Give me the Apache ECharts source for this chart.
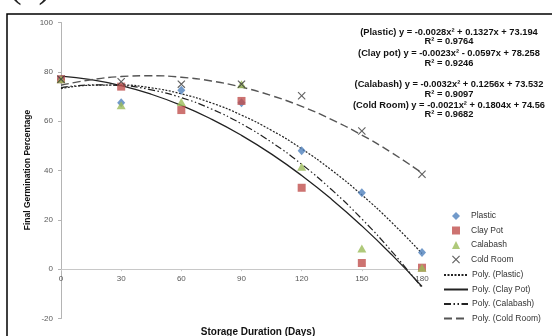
<!DOCTYPE html>
<html>
<head>
<meta charset="utf-8">
<script src="https://cdn.jsdelivr.net/npm/echarts@6/dist/echarts.min.js"></script>
<style>
  html, body { margin: 0; padding: 0; background: #fff; }
  #chart { width: 552px; height: 336px; }
</style>
</head>
<body>
<div id="chart"></div>
<script>
// storage days and measured germination (%)
var days = [0, 30, 60, 90, 120, 150, 180];
var plastic = [77, 67.5, 72.5, 67.5, 48, 31, 6.8];
var clayPot = [77, 74, 64.5, 68.2, 33, 2.5, 0.6];
var calabash = [77, 66.5, 67.8, 75, 41.5, 8.4, 0.6];
var coldRoom = [77, 76, 75, 75, 70.3, 56, 38.5];

// trendline readings (poly order 2), every 15 days
var fitDays = [0, 15, 30, 45, 60, 75, 90, 105, 120, 135, 150, 165, 180];
var fitPlastic = [73.19, 74.55, 74.66, 73.5, 71.08, 67.4, 62.46, 56.26, 48.8, 40.08, 30.1, 18.86, 6.36];
var fitClayPot = [78.26, 76.85, 74.4, 70.91, 66.4, 60.84, 54.26, 46.63, 37.97, 28.28, 17.55, 5.79, -7.01];
var fitCalabash = [73.53, 74.7, 74.42, 72.7, 69.55, 64.95, 58.92, 51.44, 42.52, 32.17, 20.37, 7.14, -7.54];
var fitColdRoom = [74.56, 76.79, 78.08, 78.43, 77.82, 76.28, 73.79, 70.35, 65.97, 60.64, 54.37, 47.15, 38.99];

var equations = [
  ['(Plastic) y = -0.0028x² + 0.1327x + 73.194', 32],
  ['R² = 0.9764', 41.5],
  ['(Clay pot) y = -0.0023x² - 0.0597x + 78.258', 53],
  ['R² = 0.9246', 63],
  ['(Calabash) y = -0.0032x² + 0.1256x + 73.532', 84],
  ['R² = 0.9097', 94],
  ['(Cold Room) y = -0.0021x² + 0.1804x + 74.56', 105],
  ['R² = 0.9682', 114.5]
];

function pairs(xs, ys) {
  return xs.map(function (x, i) { return [x, ys[i]]; });
}

var crossPath = 'path://M0,1L1,0L5,4L9,0L10,1L6,5L10,9L9,10L5,6L1,10L0,9L4,5Z';
var font = 'Liberation Sans';

var myChart = echarts.init(document.getElementById('chart'));

var graphics = [
  {
    type: 'rect',
    shape: { x: 7, y: 14, width: 700, height: 400 },
    style: { fill: 'none', stroke: '#000', lineWidth: 1.5 },
    silent: true
  },
  {
    type: 'text', x: 9, y: 6,
    style: { text: '(a)', font: '38px "Liberation Serif"', fill: '#222', textVerticalAlign: 'bottom' }
  },
  {
    type: 'text', x: 258, y: 332,
    style: { text: 'Storage Duration (Days)', font: 'bold 10px "' + font + '"', fill: '#111', textAlign: 'center', textVerticalAlign: 'middle' }
  },
  {
    type: 'text', x: 28, y: 170, rotation: Math.PI / 2,
    style: { text: 'Final Germination Percentage', font: 'bold 8.5px "' + font + '"', fill: '#111', textAlign: 'center', textVerticalAlign: 'middle' }
  }
];
equations.forEach(function (e) {
  graphics.push({
    type: 'text', x: 449, y: e[1],
    style: { text: e[0], font: 'bold 9.3px "' + font + '"', fill: '#111', textAlign: 'center', textVerticalAlign: 'middle' }
  });
});

// two legends: square icons for markers, wide icons for trendlines
var markerNames = ['Plastic', 'Clay Pot', 'Calabash', 'Cold Room'];
var lineNames = ['Poly. (Plastic)', 'Poly. (Clay Pot)', 'Poly. (Calabash)', 'Poly. (Cold Room)'];
var legendText = { fontSize: 8.5, lineHeight: 11, color: '#333' };

myChart.setOption({
  animation: false,
  textStyle: { fontFamily: font },
  grid: { left: 61, right: 130, top: 22.5, bottom: 17.5 },
  legend: [
    {
      orient: 'vertical',
      left: 452,
      top: 210.5,
      padding: 0,
      itemWidth: 8,
      itemHeight: 8,
      itemGap: 3.5,
      textStyle: Object.assign({ padding: [0, 0, 0, 6] }, legendText),
      data: markerNames
    },
    {
      orient: 'vertical',
      left: 443,
      top: 269.5,
      padding: 0,
      itemWidth: 24,
      itemHeight: 8,
      itemGap: 3.5,
      textStyle: Object.assign({ padding: [0, 0, 0, -1] }, legendText),
      data: lineNames.map(function (n) { return { name: n, itemStyle: { opacity: 0, borderWidth: 0 } }; })
    }
  ],
  xAxis: {
    type: 'value',
    min: 0, max: 180, interval: 30,
    offset: -49.3,
    axisLine: { onZero: false, lineStyle: { color: '#c8c8c8', width: 1 } },
    axisTick: { show: true, length: 2, lineStyle: { color: '#c8c8c8' } },
    axisLabel: { fontSize: 8, color: '#595959', margin: 6 },
    splitLine: { show: false }
  },
  yAxis: {
    type: 'value',
    min: -20, max: 100, interval: 20,
    axisLine: { show: true, lineStyle: { color: '#b4b4b4', width: 1 } },
    axisTick: { show: true, length: 3, lineStyle: { color: '#b4b4b4' } },
    axisLabel: { fontSize: 8, color: '#595959', margin: 8 },
    splitLine: { show: false }
  },
  graphic: graphics,
  series: [
    { name: 'Plastic', type: 'scatter', symbol: 'diamond', symbolSize: [8, 9], z: 5,
      itemStyle: { color: '#4F81BD' }, data: pairs(days, plastic) },
    { name: 'Clay Pot', type: 'scatter', symbol: 'rect', symbolSize: 8, z: 5,
      itemStyle: { color: '#C0504D' }, data: pairs(days, clayPot) },
    { name: 'Calabash', type: 'scatter', symbol: 'triangle', symbolSize: [9, 8], z: 5,
      itemStyle: { color: '#9BBB59' }, data: pairs(days, calabash) },
    { name: 'Cold Room', type: 'scatter', symbol: crossPath, symbolSize: 8, z: 6,
      itemStyle: { color: '#3a3a3a' }, data: pairs(days, coldRoom) },
    { name: 'Poly. (Plastic)', type: 'line', smooth: true, symbol: 'none', z: 3,
      lineStyle: { color: '#222', width: 1.2, type: [2, 1.5] }, itemStyle: { color: '#222' },
      data: pairs(fitDays, fitPlastic) },
    { name: 'Poly. (Clay Pot)', type: 'line', smooth: true, symbol: 'none', z: 3,
      lineStyle: { color: '#222', width: 1.3, type: 'solid' }, itemStyle: { color: '#222' },
      data: pairs(fitDays, fitClayPot) },
    { name: 'Poly. (Calabash)', type: 'line', smooth: true, symbol: 'none', z: 3,
      lineStyle: { color: '#222', width: 1.2, type: [7, 2.5, 1.5, 2.5, 1.5, 2.5] }, itemStyle: { color: '#222' },
      data: pairs(fitDays, fitCalabash) },
    { name: 'Poly. (Cold Room)', type: 'line', smooth: true, symbol: 'none', z: 3,
      lineStyle: { color: '#555', width: 1.4, type: [8, 4] }, itemStyle: { color: '#555' },
      data: pairs(fitDays, fitColdRoom) }
  ]
});
</script>
</body>
</html>
